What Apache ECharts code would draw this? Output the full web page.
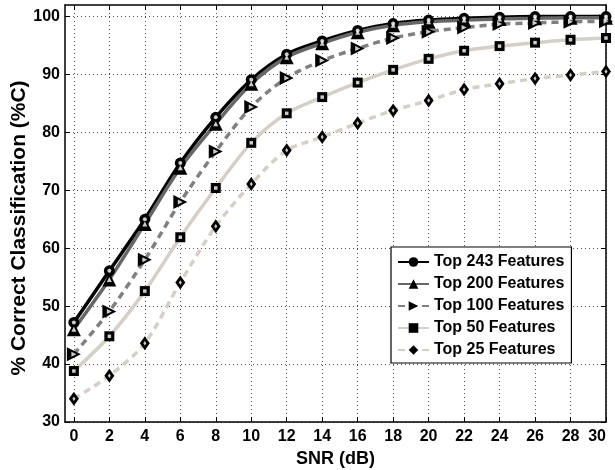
<!DOCTYPE html>
<html><head><meta charset="utf-8">
<script src="https://cdn.jsdelivr.net/npm/echarts@6/dist/echarts.min.js"></script>
<style>html,body{margin:0;padding:0;background:#fff}#c{width:615px;height:470px}</style>
</head><body><div id="c"></div>
<script>
var snr = [0,2,4,6,8,10,12,14,16,18,20,22,24,26,28,30];
var xTicks = [0,2,4,6,8,10,12,14,16,18,20,22,24,26,28,30];
var yTicks = [30,40,50,60,70,80,90,100];
var names = ['Top 243 Features','Top 200 Features','Top 100 Features','Top 50 Features','Top 25 Features'];
var yTitle = '% Correct Classification (%C)';
var xTitle = 'SNR (dB)';
var top243 = [47.2,56.1,65.0,74.7,82.6,89.1,93.5,95.8,97.6,98.8,99.4,99.7,99.9,100,100,100];
var top200 = [46.0,54.6,64.2,73.9,81.5,88.4,93.0,95.4,97.3,98.5,99.1,99.4,99.6,99.7,99.8,99.8];
var top100 = [41.7,49.1,58.0,68.0,76.7,84.4,89.4,92.4,94.5,96.3,97.4,98.1,98.7,98.9,99.1,99.2];
var top50  = [38.8,44.8,52.6,61.9,70.4,78.2,83.3,86.1,88.6,90.8,92.7,94.1,94.9,95.5,96.0,96.3];
var top25  = [34.0,38.0,43.6,54.1,63.8,71.1,76.9,79.2,81.6,83.8,85.5,87.4,88.4,89.3,89.9,90.5];

var FONT = '"Liberation Sans", Arial, Helvetica, sans-serif';
function pairs(v){ return snr.map(function(x,i){ return [x, v[i]]; }); }
function ser(name, data, color, dash, symbol, size, rot){
  return {
    name: name, type: 'line', data: pairs(data), smooth: 0.3,
    symbol: symbol, symbolSize: size, symbolRotate: rot || 0, showSymbol: true,
    lineStyle: {color: color, width: 3.5, type: dash ? [7,5] : 'solid'},
    itemStyle: {color: '#000', borderColor: '#000', borderWidth: 0},
    emphasis: {disabled: true}
  };
}
function hole(data, symbol, size, rot){
  return {
    name: '_hole', type: 'scatter', data: pairs(data), silent: true,
    symbol: symbol, symbolSize: size, symbolRotate: rot || 0,
    itemStyle: {color: '#fff', borderWidth: 0}, z: 3,
    emphasis: {disabled: true}
  };
}
var chart = echarts.init(document.getElementById('c'), null, {renderer: 'canvas'});
var tickStyle = {inside: true, length: 5, lineStyle: {color: '#000', width: 1}};
chart.setOption({
  animation: false,
  grid: {left: 65, right: 9, top: 5, bottom: 48, containLabel: false, outerBoundsMode: 'none'},
  graphic: [{
    type: 'text', x: 19.5, y: 228, rotation: Math.PI / 2, silent: true,
    style: {text: yTitle, fontFamily: FONT, fontWeight: 'bold', fontSize: 21, fill: '#000',
            align: 'center', verticalAlign: 'middle'}
  }],
  legend: {
    orient: 'vertical', left: 391, top: 247,
    backgroundColor: '#fff', borderColor: '#000', borderWidth: 1.2,
    padding: [7, 7, 5, 6], itemWidth: 31, itemHeight: 12, itemGap: 6,
    textStyle: {fontFamily: FONT, fontWeight: 'bold', fontSize: 16, color: '#000', lineHeight: 16},
    data: names
  },
  xAxis: [{
    type: 'value', min: -0.5, max: 30, position: 'bottom',
    name: xTitle, nameLocation: 'middle', nameGap: 25,
    nameTextStyle: {fontFamily: FONT, fontWeight: 'bold', fontSize: 18, color: '#000'},
    axisLine: {show: true, onZero: false, lineStyle: {color: '#000', width: 1.5}},
    axisTick: Object.assign({customValues: xTicks}, tickStyle),
    axisLabel: {customValues: xTicks, alignMaxLabel: 'right', fontFamily: FONT, fontWeight: 'bold', fontSize: 16, color: '#000', margin: 7},
    splitLine: {show: true, lineStyle: {color: '#555', width: 1, type: [1, 3]}}
  }, {
    type: 'value', min: -0.5, max: 30, position: 'top',
    axisLine: {show: true, onZero: false, lineStyle: {color: '#000', width: 1.5}},
    axisTick: Object.assign({customValues: xTicks}, tickStyle),
    axisLabel: {show: false}, splitLine: {show: false}
  }],
  yAxis: [{
    type: 'value', min: 30, max: 102, position: 'left',
    axisLine: {show: true, onZero: false, lineStyle: {color: '#000', width: 1.5}},
    axisTick: Object.assign({customValues: yTicks}, tickStyle),
    axisLabel: {customValues: yTicks, fontFamily: FONT, fontWeight: 'bold', fontSize: 16, color: '#000', margin: 5},
    splitLine: {show: true, lineStyle: {color: '#555', width: 1, type: [1, 3]}}
  }, {
    type: 'value', min: 30, max: 102, position: 'right',
    axisLine: {show: true, onZero: false, lineStyle: {color: '#000', width: 1.5}},
    axisTick: Object.assign({customValues: yTicks}, tickStyle),
    axisLabel: {show: false}, splitLine: {show: false}
  }],
  series: [
    ser(names[0], top243, '#000000', false, 'circle', 11),
    ser(names[1], top200, '#666666', false, 'triangle', 14),
    ser(names[2], top100, '#808080', true, 'triangle', 14, -90),
    ser(names[3], top50, '#d4d0c8', false, 'rect', 10),
    ser(names[4], top25, '#d4d0c8', true, 'diamond', [10, 14]),
    hole(top243, 'circle', 4),
    hole(top200, 'triangle', 5),
    hole(top100, 'triangle', 5, -90),
    hole(top50, 'rect', 3.5),
    hole(top25, 'diamond', [3, 4.5])
  ]
});
</script></body></html>
